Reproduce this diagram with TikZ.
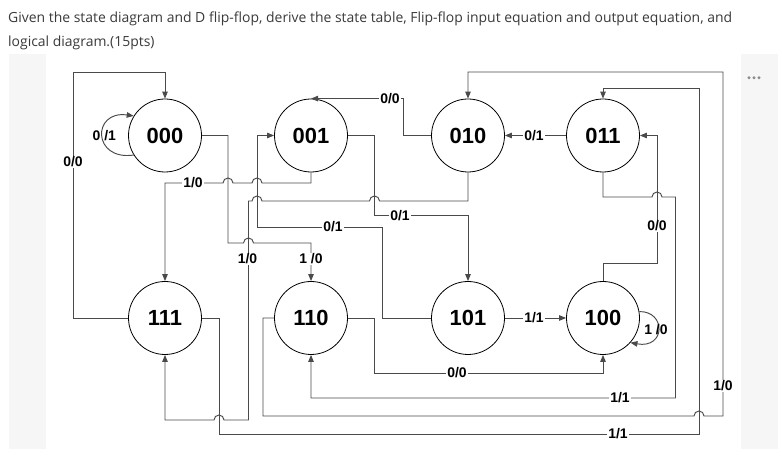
\documentclass[tikz,border=0pt]{standalone}
\usepackage{fontspec}
\setmainfont{Liberation Sans}
\newfontfamily\titlefont{Open Sans}
\usetikzlibrary{arrows.meta}
\definecolor{wirecol}{HTML}{4A4A4A}
\definecolor{panel}{HTML}{F6F6F6}
\definecolor{titlegray}{HTML}{3A3A3A}
\definecolor{dotgray}{HTML}{8A8A8A}
\begin{document}
\begin{tikzpicture}[x=1bp,y=1bp,
  state/.style={circle,draw=black,line width=0.8bp,minimum size=73bp,inner sep=0pt,
    font=\fontsize{22}{22}\selectfont\bfseries},
  wire/.style={draw=wirecol,line width=0.95bp},
  arr/.style={wire,-{Triangle[length=7bp,width=5.5bp]}},
  lbl/.style={fill=white,inner sep=1bp,font=\fontsize{14}{14}\selectfont\bfseries},
  lblnf/.style={inner sep=0pt,font=\fontsize{14}{14}\selectfont\bfseries},
  ttl/.style={anchor=base west,inner sep=0pt,text=titlegray,font=\titlefont\fontsize{14}{14}\selectfont}]
\useasboundingbox (0,0) rectangle (782,459);
\fill[white] (0,0) rectangle (782,459);
\fill[panel] (9,10) rectangle (778,405);
\fill[white] (46,10) rectangle (741,405);
\foreach \dx in {749,754,759} \fill[dotgray] (\dx,381.3) circle (1.6bp);
\node[ttl] (t1) at (8,436) {Given the state diagram and D flip-flop, derive the state table, Flip-flop input equation and output equation, and};
\node[ttl] (t2) at (8,412.5) {logical diagram.(15pts)};
% states
\node[state] (n000) at (165,323.5) {000};
\node[state] (n001) at (311,323.5) {001};
\node[state] (n010) at (468,323.5) {010};
\node[state] (n011) at (603,323.5) {011};
\node[state] (n111) at (165,141) {111};
\node[state] (n110) at (311,141) {110};
\node[state] (n101) at (468,141) {101};
\node[state] (n100) at (603,141) {100};
% connectors
\draw[arr] (n111.west) -| (73,387) -| (n000.north);
\draw[arr] (n000.212) .. controls (92,298) and (92,349) .. (n000.148);
\draw[arr] (n000.east) -| (228,216) -- (243.5,216) arc[start angle=180,end angle=0,radius=5bp] -| (n110.north);
\draw[arr] (n001.south) |- (262,276) arc[start angle=0,end angle=180,radius=5bp] -- (233,276) arc[start angle=0,end angle=180,radius=5bp] -| (n111.north);
\draw[arr] (n101.west) -| (382,232) -| (257,323.5) -- (n001.west);
\draw[arr] (n001.east) -| (374.5,243.5) -| (n101.north);
\draw[arr] (n010.south) |- (379.5,258) arc[start angle=0,end angle=180,radius=5bp] -- (262,258) arc[start angle=0,end angle=180,radius=5bp] -| (248.5,39) -- (224,39) arc[start angle=0,end angle=180,radius=5bp] -| (n111.south);
\draw[arr] (n010.west) -- (403.5,323.5) |- (n001.north);
\draw[arr] (n011.west) -- (n010.east);
\draw[arr] (n011.south) |- (652,262) arc[start angle=180,end angle=0,radius=5bp] -| (675.5,61) -| (n110.south);
\draw[arr] (n100.north) |- (657,196) |- (n011.east);
\draw[arr] (n101.east) -- (n100.west);
\draw[arr] (n100.10) .. controls (666,148) and (666,110) .. (n100.-42);
\draw[arr] (n110.east) -| (374.5,86) -| (n100.south);
\draw[arr] (n110.west) -| (263,43) -- (694,43) arc[start angle=180,end angle=0,radius=5bp] -| (723,387) -| (n010.north);
\draw[arr] (n111.east) -| (219,25) -| (699,371) -| (n011.north);
% labels
\node[lbl] (l1) at (73,297) {0/0};
\node[lblnf] (l2) at (104.3,323.5) {0 /1};
\node[lbl] (l3) at (193,276) {1/0};
\node[lbl] (l4) at (247.5,200) {1/0};
\node[lbl] (l5) at (311,200) {1 /0};
\node[lbl] (l6) at (333,232) {0/1};
\node[lbl] (l7) at (400,243.5) {0/1};
\node[lbl] (l8) at (390,360) {0/0};
\node[lbl] (l9) at (534,323.5) {0/1};
\node[lbl] (l10) at (657,233) {0/0};
\node[lbl] (l11) at (534,141) {1/1};
\node[lblnf] (l12) at (656,129) {1 /0};
\node[lbl] (l13) at (457,86) {0/0};
\node[lbl] (l14) at (620,61) {1/1};
\node[lbl] (l15) at (723,73) {1/0};
\node[lbl] (l16) at (618,25) {1/1};
\end{tikzpicture}
\end{document}
